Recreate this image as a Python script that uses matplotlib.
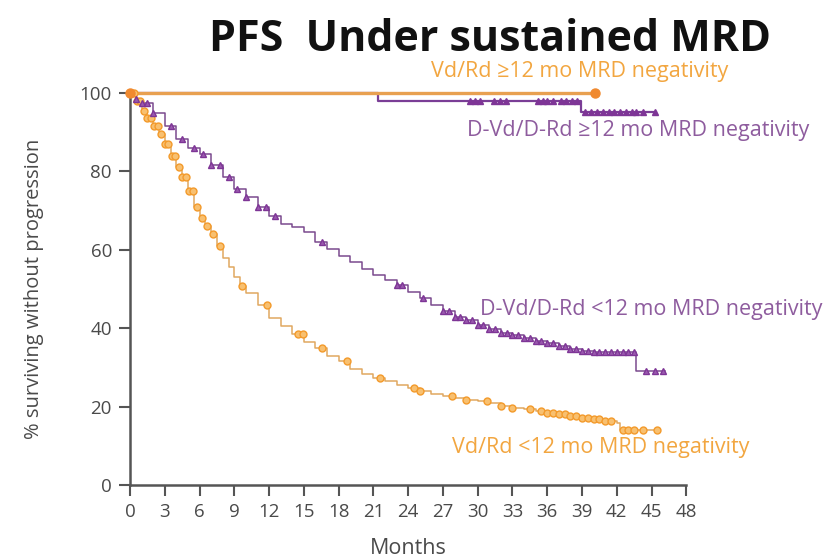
import numpy as np
import matplotlib
matplotlib.use("Agg")
import matplotlib.pyplot as plt

plt.rcParams['font.family'] = ['Open Sans', 'DejaVu Sans']

# ---- data -------------------------------------------------------------
x_ticks = list(range(0, 49, 3))
y_ticks = [0, 20, 40, 60, 80, 100]

# Vd/Rd, >=12 months sustained MRD negativity
vdrd_ge12_t = [0, 40.1]
vdrd_ge12_s = [100, 100]
vdrd_ge12_cens = [0.0, 40.1]

# D-Vd/D-Rd, >=12 months sustained MRD negativity
dvd_ge12_t = [0, 21.4, 38.9, 45.4]
dvd_ge12_s = [100, 98.0, 95.1, 95.1]
dvd_ge12_cens = [29.3, 29.8, 30.2, 31.4, 31.9, 32.4, 35.2, 35.6, 36.0, 36.5,
                 37.2, 37.6, 38.1, 38.6, 39.3, 39.8, 40.3, 40.8, 41.3, 41.8,
                 42.3, 42.8, 43.3, 43.7, 44.3, 45.3]

# D-Vd/D-Rd, <12 months sustained MRD negativity
dvd_lt12_t = [0, 0.5, 1, 2, 3, 4, 5, 6, 7, 8, 9, 10, 11, 12, 13, 14, 15, 16,
              17, 18, 19, 20, 21, 22, 23, 24, 25, 26, 27, 28, 29, 30, 31, 32,
              33, 34, 35, 36, 37, 38, 39, 40, 43.7, 46.2]
dvd_lt12_s = [100, 98.5, 97.5, 95, 91.5, 88.2, 86, 84.5, 81.5, 78.5, 75.5,
              73.5, 71, 68.5, 66.5, 65.8, 64.5, 62, 60.3, 58.5, 56.8, 55,
              53.5, 52.2, 51, 49.3, 47.7, 46, 44.3, 42.8, 42, 40.8, 39.8, 38.8,
              38.2, 37.4, 36.8, 36.2, 35.5, 34.8, 34.2, 34, 29, 29]
dvd_lt12_cens = [0.5, 1, 1.5, 2, 3.5, 4.5, 5.5, 6.3, 7, 7.8, 8.5, 9.2, 10, 11,
                 11.7, 12.5, 16.6, 23, 23.5, 25.3, 27, 27.5, 28, 28.5, 29,
                 29.5, 30, 30.5, 31, 31.5, 32, 32.5, 33, 33.5, 34, 34.5, 35,
                 35.5, 36, 36.5, 37, 37.5, 38, 38.5, 39, 39.5, 40, 40.5, 41,
                 41.5, 42, 42.5, 43, 43.5, 44.5, 45.3, 46]

# Vd/Rd, <12 months sustained MRD negativity
vdrd_lt12_t = [0, 0.5, 1, 1.5, 2, 2.5, 3, 3.5, 4, 4.5, 5, 5.5, 6, 6.5, 7, 7.5,
               8, 8.5, 9, 9.5, 10, 11, 12, 13, 14, 15, 16, 17, 18, 19, 20, 21,
               22, 23, 24, 25, 26, 27, 28, 29, 30, 31, 32, 33, 34, 35, 36, 37,
               38, 39, 40, 41, 42, 42.3, 45.7]
vdrd_lt12_s = [100, 98, 95.5, 93.5, 91.5, 89.5, 87, 84, 81, 78.5, 75, 71, 68,
               66, 64, 61, 58, 55.5, 53, 50.8, 49, 46, 42.5, 40.5, 38.5, 36.5,
               35, 33, 31.5, 29.5, 28.3, 27.3, 26.4, 25.6, 24.8, 24, 23.3,
               22.8, 22.3, 21.8, 21.3, 20.8, 20.2, 19.7, 19.3, 18.8, 18.4, 18,
               17.5, 17.1, 16.7, 16.3, 15.8, 14.1, 14.1]
vdrd_lt12_cens = [0.3, 0.6, 0.9, 1.2, 1.5, 1.8, 2.1, 2.4, 2.7, 3.0, 3.3, 3.6,
                  3.9, 4.2, 4.5, 4.8, 5.1, 5.4, 5.8, 6.2, 6.6, 7.2, 7.8, 9.7,
                  11.8, 14.5, 14.9, 16.6, 18.7, 21.6, 24.5, 25, 27.8, 29, 30.8,
                  32, 33, 34.5, 35.5, 36, 36.5, 37, 37.5, 38, 38.5, 39, 39.5,
                  40, 40.5, 41, 41.5, 42.5, 43, 43.5, 44.3, 45.5]

ORANGE = '#F39A2B'
ORANGE_TXT = '#F2A640'
PURPLE = '#7E3596'
PURPLE_TXT = '#8E5C9E'
AXIS_GREY = '#555555'
TEXT_GREY = '#4a4a4a'


def step_value(t, times, surv):
    idx = np.searchsorted(times, t, side='right') - 1
    return np.asarray(surv)[np.clip(idx, 0, len(surv) - 1)]


fig = plt.figure(figsize=(8.39, 5.60), dpi=100)
ax = fig.add_axes([0.155, 0.134, 0.663, 0.700])


def km(times, surv, cens, color, marker, lcolor=None, mfc=None, ms=4.5, lw=1.2):
    ax.step(times, surv, where='post', color=lcolor or color, lw=lw,
            clip_on=False, zorder=3)
    cv = step_value(cens, times, surv)
    ax.plot(cens, cv, linestyle='none', marker=marker, ms=ms,
            mec=color, mfc=mfc if mfc is not None else color, mew=1.0,
            clip_on=False, zorder=4)


km(vdrd_lt12_t, vdrd_lt12_s, vdrd_lt12_cens, ORANGE, 'o', lcolor='#E0A860',
   mfc='#F8C070', ms=5, lw=1.1)
km(dvd_lt12_t, dvd_lt12_s, dvd_lt12_cens, PURPLE, '^', lcolor='#7A4A8E',
   mfc='#9A5AAE', ms=5, lw=1.1)
km(dvd_ge12_t, dvd_ge12_s, dvd_ge12_cens, PURPLE, '^', lcolor='#7A3E96',
   ms=5, lw=1.6)
km(vdrd_ge12_t, vdrd_ge12_s, vdrd_ge12_cens, '#F08A30', 'o', lcolor='#E8A050',
   ms=6.5, lw=2.4)

ax.set_xlim(0, 48)
ax.set_ylim(0, 100)
ax.set_xticks(x_ticks)
ax.set_yticks(y_ticks)
ax.tick_params(axis='both', direction='out', length=8, width=1.5,
               color=AXIS_GREY, labelcolor=TEXT_GREY, labelsize=13.5, pad=5)
for side in ('top', 'right'):
    ax.spines[side].set_visible(False)
for side in ('left', 'bottom'):
    ax.spines[side].set_color(AXIS_GREY)
    ax.spines[side].set_linewidth(1.8)

ax.set_xlabel('Months', fontsize=15.5, color=TEXT_GREY, labelpad=12)
ax.set_ylabel('% surviving without progression', fontsize=14.5,
              color=TEXT_GREY, labelpad=26)

fig.text(0.584, 0.929, 'PFS  Under sustained MRD', ha='center', va='center',
         fontsize=31, fontweight='bold', color='#111111')

LABEL_SIZE = 15.5
ax.text(26.0, 105.4, 'Vd/Rd \u226512 mo MRD negativity', color=ORANGE_TXT,
        fontsize=LABEL_SIZE, ha='left', va='center', clip_on=False)
ax.text(29.1, 90.3, 'D-Vd/D-Rd \u226512 mo MRD negativity', color=PURPLE_TXT,
        fontsize=LABEL_SIZE, ha='left', va='center', clip_on=False)
ax.text(30.2, 44.8, 'D-Vd/D-Rd <12 mo MRD negativity', color=PURPLE_TXT,
        fontsize=LABEL_SIZE, ha='left', va='center', clip_on=False)
ax.text(27.8, 9.5, 'Vd/Rd <12 mo MRD negativity', color=ORANGE_TXT,
        fontsize=LABEL_SIZE, ha='left', va='center', clip_on=False)

fig.savefig('out.png', dpi=100)
